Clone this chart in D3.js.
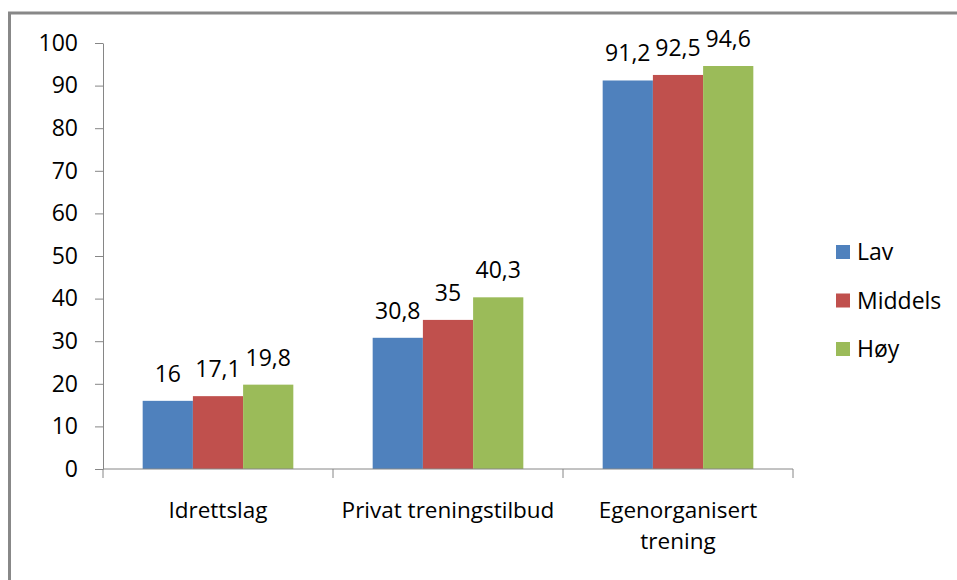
<!DOCTYPE html>
<html>
<head>
<meta charset="utf-8">
<script src="https://cdn.jsdelivr.net/npm/d3@7"></script>
<style>
  body { margin: 0; background: #fff; }
  text { font-family: "Open Sans", "DejaVu Sans", sans-serif; fill: #000; }
</style>
</head>
<body>
<svg id="chart" width="957" height="580"></svg>
<script>
var categories = ["Idrettslag", "Privat treningstilbud", "Egenorganisert trening"];
var seriesNames = ["Lav", "Middels", "Høy"];
var lav = [16, 30.8, 91.2];
var middels = [17.1, 35, 92.5];
var hoy = [19.8, 40.3, 94.6];
var yTicks = [0, 10, 20, 30, 40, 50, 60, 70, 80, 90, 100];

(function barChart() {
    var svg = d3.select("#chart");
    var colors = ["#4F81BD", "#C0504D", "#9BBB59"];
    var values = [lav, middels, hoy];
    var fs = "23px";

    // outer frame (left + top only visible)
    svg.append("path")
        .attr("d", "M9.5,600 V13 H980")
        .attr("fill", "none")
        .attr("stroke", "#888")
        .attr("stroke-width", 3);

    var left = 103, right = 793, top = 43, bottom = 469;

    var x0 = d3.scaleBand().domain(categories).range([left, right]).paddingInner(0).paddingOuter(0);
    var x1 = d3.scaleBand().domain(seriesNames).range([0, x0.bandwidth()]).paddingOuter(0.79).paddingInner(0);
    var y = d3.scaleLinear().domain([0, 100]).range([bottom, top]);

    var g = svg.append("g");

    // y axis
    var yAxis = g.append("g")
        .attr("transform", "translate(" + left + ",0)")
        .call(d3.axisLeft(y).tickValues(yTicks).tickSize(8).tickSizeOuter(0).tickPadding(17));
    yAxis.select(".domain").attr("stroke", "#868686");
    yAxis.selectAll(".tick line").attr("stroke", "#868686");
    yAxis.selectAll("text").style("font-size", fs).attr("font-family", null);

    // bars
    categories.forEach(function (c, ci) {
        var grp = g.append("g").attr("transform", "translate(" + x0(c) + ",0)");
        seriesNames.forEach(function (s, si) {
            var v = values[si][ci];
            grp.append("rect")
                .attr("x", x1(s))
                .attr("y", y(v))
                .attr("width", x1.bandwidth())
                .attr("height", y(0) - y(v))
                .attr("fill", colors[si]);
            grp.append("text")
                .attr("x", x1(s) + x1.bandwidth() / 2)
                .attr("y", y(v) - 19)
                .attr("text-anchor", "middle")
                .style("font-size", fs)
                .text(String(v).replace(".", ","));
        });
    });

    // x axis
    var xAxis = g.append("g")
        .attr("transform", "translate(0," + bottom + ")");
    xAxis.append("line")
        .attr("x1", left).attr("x2", right)
        .attr("stroke", "#868686");
    var bounds = [left].concat(categories.map(function (c) { return x0(c) + x0.bandwidth(); }));
    xAxis.selectAll(".tk").data(bounds).enter().append("line")
        .attr("x1", function (d) { return d; }).attr("x2", function (d) { return d; })
        .attr("y1", 0).attr("y2", 9)
        .attr("stroke", "#868686");

    var catLines = [["Idrettslag"], ["Privat treningstilbud"], ["Egenorganisert", "trening"]];
    categories.forEach(function (c, ci) {
        catLines[ci].forEach(function (line, li) {
            g.append("text")
                .attr("x", x0(c) + x0.bandwidth() / 2)
                .attr("y", 518 + li * 31)
                .attr("text-anchor", "middle")
                .style("font-size", "22.5px")
                .text(line);
        });
    });

    // legend
    var legend = svg.append("g").attr("transform", "translate(836,0)");
    seriesNames.forEach(function (s, i) {
        var cy = 252 + i * 48.5;
        legend.append("rect")
            .attr("x", 0).attr("y", cy - 7)
            .attr("width", 14).attr("height", 14)
            .attr("fill", colors[i]);
        legend.append("text")
            .attr("x", 21).attr("y", cy + 8)
            .style("font-size", fs)
            .text(s);
    });
}());
</script>
</body>
</html>
